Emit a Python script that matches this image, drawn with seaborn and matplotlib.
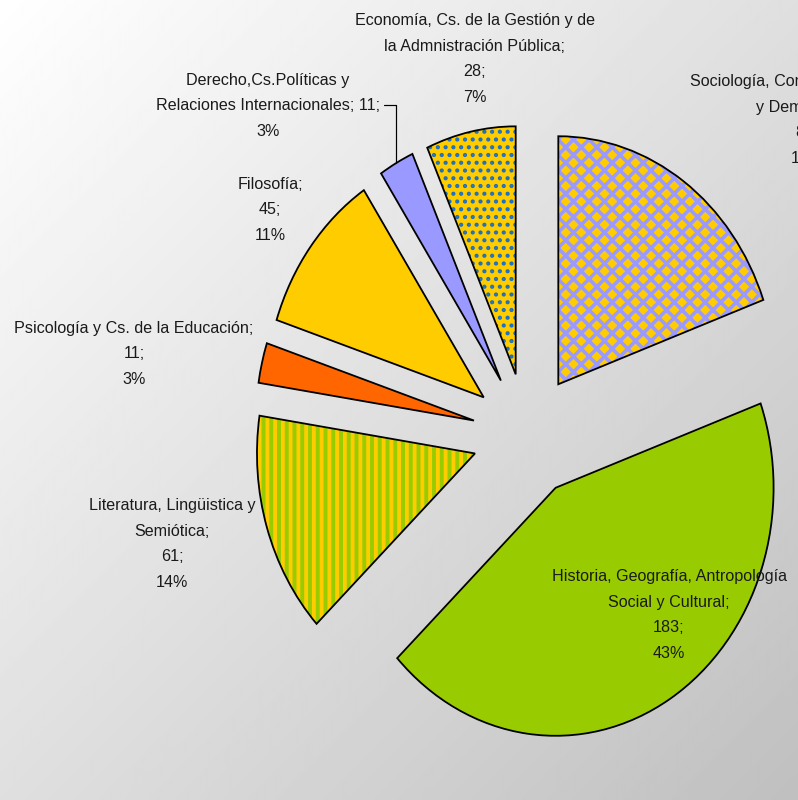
import numpy as np
import matplotlib
matplotlib.use("Agg")
import matplotlib.pyplot as plt
import seaborn as sns

# --- Datos ---
categorias = [
    "Sociología, Comunicación Social\ny Demografía",
    "Historia, Geografía, Antropología\nSocial y Cultural",
    "Literatura, Lingüistica y\nSemiótica",
    "Psicología y Cs. de la Educación",
    "Filosofía",
    "Derecho,Cs.Políticas y\nRelaciones Internacionales",
    "Economía, Cs. de la Gestión y de\nla Admnistración Pública",
]
valores = [82, 183, 61, 11, 45, 11, 28]

# --- Estilo ---
colores_fondo = ["#FFCC00", "#99CC00", "#99CC00", "#FF6600", "#FFCC00", "#9999FF", "#FFCC00"]
tramas = ["xx", "", "||", "", "", "", ".."]
colores_trama = ["#9999FF", None, "#FFCC00", None, None, None, "#1F6FC0"]

# posiciones de las etiquetas (pixeles, centro del bloque)
pos_etiquetas = [(807, 120), (669, 615), (172, 544), (134, 354), (270, 210), (268, 106), (475, 59)]

# dpi 93: la celda de trama mide 93 px, asi las rayas quedan del tamaño del original
DPI = 93
W, H = 798, 800
CX, CY = 527, 435      # centro del pastel en pixeles
RX, RY = 218, 248      # radio horizontal / vertical (imagen estirada)
EXPLOTE = 0.25


def pt(px):
    return px * 72 / DPI


grosor_trama = [pt(3.6), 0, pt(3.8), 0, 0, 0, pt(2.6)]

XLIM = (-CX / RX, (W - CX) / RX)
YLIM = (-(H - CY) / RY, CY / RY)


def px2data(px, py):
    x = XLIM[0] + px / W * (XLIM[1] - XLIM[0])
    y = YLIM[1] - py / H * (YLIM[1] - YLIM[0])
    return x, y


sns.set_theme(style="white")
plt.rcParams["font.family"] = ["Liberation Sans", "DejaVu Sans"]
plt.rcParams["hatch.linewidth"] = pt(3.8)

fig = plt.figure(figsize=(W / DPI, H / DPI), dpi=DPI)

# fondo degradado
bg = fig.add_axes([0, 0, 1, 1], zorder=0)
gx, gy = np.meshgrid(np.linspace(0, 1, 400), np.linspace(0, 1, 400))
grad = 1.0 - 0.25 * (gx + gy) / 2
bg.imshow(grad, cmap="gray", vmin=0, vmax=1, aspect="auto", extent=(0, 1, 0, 1), origin="upper")
bg.axis("off")

ax = fig.add_axes([0, 0, 1, 1], zorder=1)
ax.patch.set_visible(False)

explode = [EXPLOTE] * len(valores)
kw = dict(startangle=90, counterclock=False, explode=explode)

# relleno base
base, _ = ax.pie(valores, colors=colores_fondo, wedgeprops=dict(linewidth=0), **kw)

# tramas
capa, _ = ax.pie(valores, colors=["none"] * len(valores), wedgeprops=dict(linewidth=0), **kw)
for w, t, c, g in zip(capa, tramas, colores_trama, grosor_trama):
    if t:
        w.set_facecolor("none")
        w.set_edgecolor(c)
        w.set_linewidth(0)
        w.set_hatch(t)
        if hasattr(w, "set_hatch_linewidth"):
            w.set_hatch_linewidth(g)
    else:
        w.set_visible(False)

# contorno
ax.pie(valores, colors=["none"] * len(valores),
       wedgeprops=dict(edgecolor="black", linewidth=pt(1.8), fill=False), **kw)

ax.set_aspect("auto")
ax.set_xlim(*XLIM)
ax.set_ylim(*YLIM)
ax.axis("off")

# etiquetas
total = sum(valores)
for i, (nombre, v) in enumerate(zip(categorias, valores)):
    pct = round(v / total * 100)
    if i == 5:
        texto = f"{nombre}; {v};\n{pct}%"
    else:
        texto = f"{nombre};\n{v};\n{pct}%"
    px, py = pos_etiquetas[i]
    fig.text(px / W, 1 - py / H, texto, ha="center", va="center",
             fontsize=pt(16.1), linespacing=1.9, color="#1a1a1a")

# linea guia para Derecho
w = base[5]
ang = np.deg2rad((w.theta1 + w.theta2) / 2)
mx = w.center[0] + w.r * np.cos(ang)
my = w.center[1] + w.r * np.sin(ang)
x0, y0 = px2data(384, 105)
ax.plot([x0, mx, mx], [y0, y0, my], color="black", linewidth=pt(1.2))

fig.savefig("out.png", dpi=DPI)
